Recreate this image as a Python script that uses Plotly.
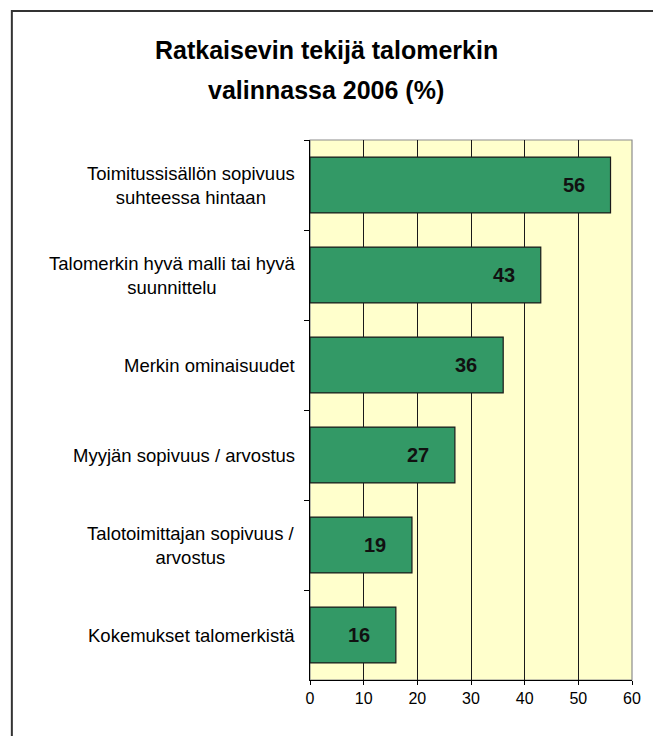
import plotly.graph_objects as go

# ---- data ----
title_lines = ["Ratkaisevin tekijä talomerkin", "valinnassa 2006 (%)"]
categories = [
    "Toimitussisällön sopivuus<br>suhteessa hintaan",
    "Talomerkin hyvä malli tai hyvä<br>suunnittelu",
    "Merkin ominaisuudet",
    "Myyjän sopivuus / arvostus",
    "Talotoimittajan sopivuus /<br>arvostus",
    "Kokemukset talomerkistä",
]
values = [56, 43, 36, 27, 19, 16]
x_ticks = [0, 10, 20, 30, 40, 50, 60]

FONT = "Liberation Sans, Arial, Helvetica, sans-serif"
BAR = "#339966"

W, H = 653, 736
ml, mr, mt, mb = 310, 19, 140, 56
ph = H - mt - mb
pw = W - ml - mr


def px_x(p):
    return (p - ml) / pw


def px_y(p):
    return (H - mb - p) / ph


fig = go.Figure()
fig.add_trace(go.Bar(
    x=values, y=categories, orientation="h",
    marker=dict(color=BAR, line=dict(color="#1a1a1a", width=1.2)),
    width=0.62, hoverinfo="skip", showlegend=False,
))

# value labels inside bars
for c, v in zip(categories, values):
    fig.add_annotation(x=v, y=c, xref="x", yref="y", text=f"<b>{v}</b>",
                       showarrow=False, xanchor="right", xshift=-24,
                       font=dict(family=FONT, size=20, color="#111111"))

# category labels (centered multi-line)
for c in categories:
    fig.add_annotation(x=0, y=c, xref="paper", yref="y", text=c,
                       showarrow=False, xanchor="right", align="center",
                       xshift=-13,
                       font=dict(family=FONT, size=18.5, color="#000000"))

# title lines
for txt, ypx in zip(title_lines, [50, 90]):
    fig.add_annotation(x=px_x(W / 2), y=px_y(ypx), xref="paper", yref="paper",
                       text=f"<b>{txt}</b>", showarrow=False,
                       xanchor="center", yanchor="middle",
                       font=dict(family=FONT, size=25, color="#000000"))

# outer frame drawn as a bordered rectangle in pixel space via paper coords
fig.add_shape(type="rect", xref="paper", yref="paper",
              x0=px_x(10), x1=px_x(W + 20), y0=px_y(H + 20), y1=px_y(11),
              line=dict(color="#333333", width=2), fillcolor="rgba(0,0,0,0)",
              layer="above")
# plot-area border (grey)
fig.add_shape(type="rect", xref="paper", yref="paper", x0=0, x1=1, y0=0, y1=1,
              line=dict(color="#8c8c8c", width=1.2), layer="below")

fig.update_layout(
    width=W, height=H,
    margin=dict(l=ml, r=mr, t=mt, b=mb, pad=0),
    paper_bgcolor="#ffffff",
    plot_bgcolor="#ffffcc",
    bargap=0.38,
    font=dict(family=FONT, color="#000000"),
    xaxis=dict(range=[0, 60], tickvals=x_ticks, ticktext=[str(t) for t in x_ticks],
               showgrid=True, gridcolor="#1a1a1a", gridwidth=1.2,
               showline=True, linecolor="#000000", linewidth=1.2,
               ticks="outside", ticklen=4, tickcolor="#000000",
               tickfont=dict(family=FONT, size=16, color="#000000"),
               zeroline=False, fixedrange=True),
    yaxis=dict(autorange="reversed", type="category",
               showticklabels=False, tickson="boundaries",
               ticks="outside", ticklen=5, tickcolor="#000000",
               showline=True, linecolor="#000000", linewidth=1.2,
               showgrid=False, zeroline=False, fixedrange=True),
)

fig.write_html("out.html", config={"displayModeBar": False})
